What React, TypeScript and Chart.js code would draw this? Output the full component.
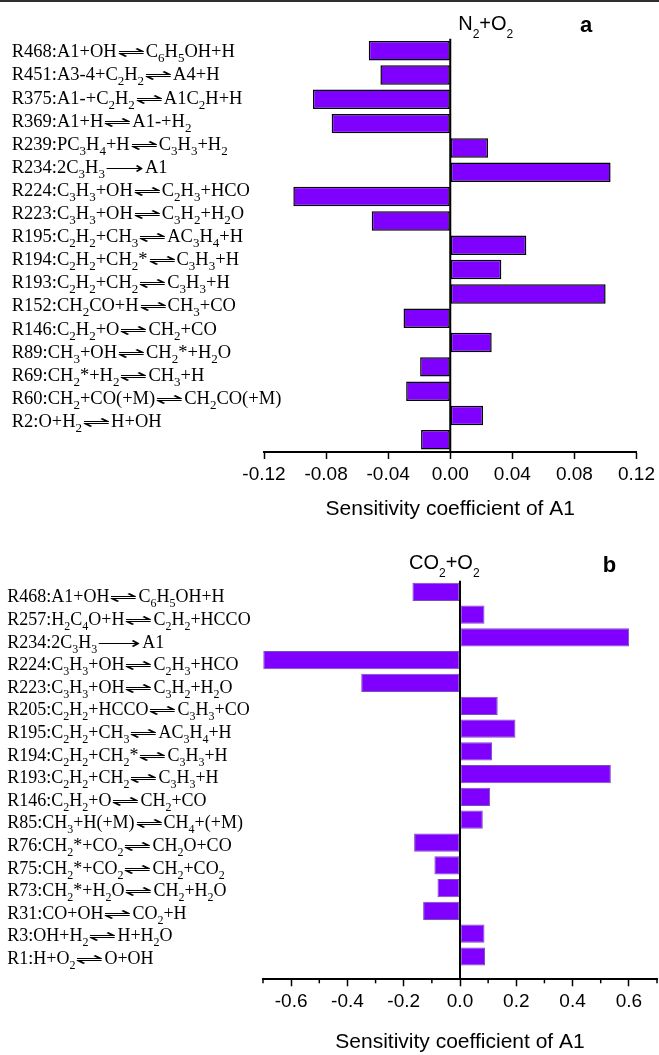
import React, { useEffect, useRef } from 'react';
import { Chart, registerables } from 'chart.js';

Chart.register(...registerables);

// ---------- data ----------
const labelsA = [
  'R468:A1+OH⇌C₆H₅OH+H',
  'R451:A3-4+C₂H₂⇌A4+H',
  'R375:A1-+C₂H₂⇌A1C₂H+H',
  'R369:A1+H⇌A1-+H₂',
  'R239:PC₃H₄+H⇌C₃H₃+H₂',
  'R234:2C₃H₃⟶A1',
  'R224:C₃H₃+OH⇌C₂H₃+HCO',
  'R223:C₃H₃+OH⇌C₃H₂+H₂O',
  'R195:C₂H₂+CH₃⇌AC₃H₄+H',
  'R194:C₂H₂+CH₂*⇌C₃H₃+H',
  'R193:C₂H₂+CH₂⇌C₃H₃+H',
  'R152:CH₂CO+H⇌CH₃+CO',
  'R146:C₂H₂+O⇌CH₂+CO',
  'R89:CH₃+OH⇌CH₂*+H₂O',
  'R69:CH₂*+H₂⇌CH₃+H',
  'R60:CH₂+CO(+M)⇌CH₂CO(+M)',
  'R2:O+H₂⇌H+OH',
];
const valuesA = [
  -0.0525, -0.045, -0.0885, -0.0764, 0.0243, 0.1033, -0.1011, -0.0506, 0.049,
  0.0329, 0.1001, -0.0301, 0.0267, -0.0194, -0.0284, 0.0211, -0.0188,
];
const ticksA = [-0.12, -0.08, -0.04, 0, 0.04, 0.08, 0.12];

const labelsB = [
  'R468:A1+OH⇌C₆H₅OH+H',
  'R257:H₂C₄O+H⇌C₂H₂+HCCO',
  'R234:2C₃H₃⟶A1',
  'R224:C₃H₃+OH⇌C₂H₃+HCO',
  'R223:C₃H₃+OH⇌C₃H₂+H₂O',
  'R205:C₂H₂+HCCO⇌C₃H₃+CO',
  'R195:C₂H₂+CH₃⇌AC₃H₄+H',
  'R194:C₂H₂+CH₂*⇌C₃H₃+H',
  'R193:C₂H₂+CH₂⇌C₃H₃+H',
  'R146:C₂H₂+O⇌CH₂+CO',
  'R85:CH₃+H(+M)⇌CH₄+(+M)',
  'R76:CH₂*+CO₂⇌CH₂O+CO',
  'R75:CH₂*+CO₂⇌CH₂+CO₂',
  'R73:CH₂*+H₂O⇌CH₂+H₂O',
  'R31:CO+OH⇌CO₂+H',
  'R3:OH+H₂⇌H+H₂O',
  'R1:H+O₂⇌O+OH',
];
const valuesB = [
  -0.169, 0.087, 0.601, -0.699, -0.351, 0.134, 0.197, 0.114, 0.536, 0.107,
  0.081, -0.163, -0.091, -0.08, -0.131, 0.087, 0.089,
];
const ticksB = [-0.6, -0.4, -0.2, 0, 0.2, 0.4, 0.6];
const minorTicksB = [-0.7, -0.5, -0.3, -0.1, 0.1, 0.3, 0.5, 0.7];

const titleA = 'N₂+O₂';
const panelA = 'a';
const titleB = 'CO₂+O₂';
const panelB = 'b';
const axisTitle = 'Sensitivity coefficient of A1';

// ---------- rich text ----------
const SUBS = '₀₁₂₃₄₅₆₇₈₉';
type Run = { text: string; kind: 'n' | 's' | 'eq' | 'fw' };

function parseRuns(s: string): Run[] {
  const runs: Run[] = [];
  const push = (ch: string, kind: Run['kind']) => {
    const last = runs[runs.length - 1];
    if (last && last.kind === kind && (kind === 'n' || kind === 's')) last.text += ch;
    else runs.push({ text: ch, kind });
  };
  for (const ch of s) {
    const si = SUBS.indexOf(ch);
    if (si >= 0) push(String(si), 's');
    else if (ch === '⇌') push(ch, 'eq');
    else if (ch === '⟶') push(ch, 'fw');
    else push(ch, 'n');
  }
  return runs;
}

type RichOpts = {
  family: string;
  size: number;
  subSize: number;
  subDy: number;
  eqW: number;
  fwW: number;
  arrowFont: string;
  arrowSy: number;
};

function drawRich(ctx: CanvasRenderingContext2D, text: string, x: number, y: number, o: RichOpts) {
  let cx = x;
  for (const r of parseRuns(text)) {
    if (r.kind === 'n') {
      ctx.font = `${o.size}px ${o.family}`;
      ctx.fillText(r.text, cx, y);
      cx += ctx.measureText(r.text).width;
    } else if (r.kind === 's') {
      ctx.font = `${o.subSize}px ${o.family}`;
      ctx.fillText(r.text, cx, y + o.subDy);
      cx += ctx.measureText(r.text).width;
    } else {
      const target = r.kind === 'eq' ? o.eqW : o.fwW;
      ctx.font = o.arrowFont;
      const w = ctx.measureText(r.text).width || 1;
      ctx.save();
      ctx.translate(cx, y);
      ctx.scale(target / w, o.arrowSy);
      ctx.fillText(r.text, 0, 0);
      ctx.restore();
      cx += target;
    }
  }
}

const SERIF = "'Liberation Serif', 'Times New Roman', serif";
const SANS = "'Liberation Sans', Arial, sans-serif";
const ARROW = "200 18px 'DejaVu Sans', sans-serif";

type PanelCfg = {
  labels: string[];
  values: number[];
  ticks: number[];
  minor: number[];
  decimals: number;
  min: number;
  max: number;
  yMax: number;
  title: string;
  panel: string;
  canvasH: number;
  padding: { left: number; right: number; top: number; bottom: number };
  axisH: number;
  titlePad: number;
  borderColor: string;
  borderWidth: number;
  labelX: number;
  labelFirst: number;
  labelGap: number;
  labelSize: number;
  eqW: number;
  fwW: number;
  titleDx: number;
  titleDy: number;
  panelDx: number;
  panelDy: number;
};

function buildConfig(p: PanelCfg): any {
  const decor = {
    id: 'decor',
    afterDatasetsDraw(chart: any) {
      const { ctx, chartArea } = chart;
      const xs = chart.scales.x;
      const zx = xs.getPixelForValue(0);
      ctx.save();
      ctx.beginPath();
      ctx.rect(chartArea.left - 2, chartArea.top, chartArea.right - chartArea.left + 4, chartArea.bottom - chartArea.top);
      ctx.clip();
      ctx.strokeStyle = '#000';
      ctx.lineWidth = 2;
      ctx.beginPath();
      ctx.moveTo(zx, chartArea.top);
      ctx.lineTo(zx, chartArea.bottom);
      ctx.stroke();
      ctx.restore();
    },
    afterDraw(chart: any) {
      const { ctx, chartArea } = chart;
      const xs = chart.scales.x;
      ctx.save();
      ctx.fillStyle = '#000';
      ctx.textAlign = 'left';
      ctx.textBaseline = 'alphabetic';
      const serifOpts: RichOpts = {
        family: SERIF,
        size: p.labelSize,
        subSize: Math.round(p.labelSize * 0.68),
        subDy: 5,
        eqW: p.eqW,
        fwW: p.fwW,
        arrowFont: ARROW,
        arrowSy: 0.85,
      };
      p.labels.forEach((l, i) => {
        drawRich(ctx, l, p.labelX, chartArea.top + p.labelFirst + i * p.labelGap, serifOpts);
      });
      const sansOpts: RichOpts = {
        family: SANS,
        size: 20,
        subSize: 12,
        subDy: 8,
        eqW: 20,
        fwW: 20,
        arrowFont: ARROW,
        arrowSy: 1,
      };
      drawRich(ctx, p.title, xs.getPixelForValue(0) + p.titleDx, chartArea.top + p.titleDy, sansOpts);
      ctx.font = `bold 22px ${SANS}`;
      ctx.fillText(p.panel, chartArea.right + p.panelDx, chartArea.top + p.panelDy);
      // minor ticks
      ctx.strokeStyle = '#000';
      ctx.lineWidth = 1.5;
      p.minor.forEach((v) => {
        const px = xs.getPixelForValue(v);
        ctx.beginPath();
        ctx.moveTo(px, chartArea.bottom);
        ctx.lineTo(px, chartArea.bottom + 4);
        ctx.stroke();
      });
      ctx.restore();
    },
  };

  return {
    type: 'bar',
    data: {
      datasets: [
        {
          data: p.values.map((v, i) => ({ x: v, y: i })),
          backgroundColor: '#8000ff',
          borderColor: p.borderColor,
          borderWidth: p.borderWidth,
          borderSkipped: false,
          barPercentage: 0.8,
          categoryPercentage: 1,
        },
      ],
    },
    options: {
      indexAxis: 'y',
      responsive: false,
      animation: false,
      devicePixelRatio: 1,
      layout: { padding: p.padding },
      plugins: { legend: { display: false }, tooltip: { enabled: false } },
      scales: {
        y: {
          type: 'linear',
          reverse: true,
          offset: false,
          min: -0.5,
          max: p.yMax,
          display: false,
          grid: { display: false },
          border: { display: false },
          afterBuildTicks: (s: any) => {
            s.ticks = p.labels.map((_, i) => ({ value: i }));
          },
        },
        x: {
          type: 'linear',
          min: p.min,
          max: p.max,
          offset: false,
          afterBuildTicks: (s: any) => {
            s.ticks = p.ticks.map((v) => ({ value: v }));
          },
          afterFit: (s: any) => {
            s.height = p.axisH;
          },
          ticks: {
            color: '#000',
            padding: 4,
            font: { family: SANS, size: 19 },
            maxRotation: 0,
            autoSkip: false,
            callback: (v: any) => Number(v).toFixed(p.decimals),
          },
          grid: {
            drawOnChartArea: false,
            color: '#000',
            tickColor: '#000',
            tickLength: 7,
            tickWidth: 1.5,
          },
          border: { display: true, color: '#000', width: 2 },
          title: {
            display: true,
            text: axisTitle,
            color: '#000',
            font: { family: SANS, size: 21 },
            padding: { top: 0, bottom: p.titlePad },
          },
        },
      },
    },
    plugins: [decor],
  };
}

const cfgA: PanelCfg = {
  labels: labelsA,
  values: valuesA,
  ticks: ticksA,
  minor: [],
  decimals: 2,
  min: -0.12,
  max: 0.12,
  yMax: 16.5,
  title: titleA,
  panel: panelA,
  canvasH: 527,
  padding: { left: 264, right: 19.7, top: 38.5, bottom: 5 },
  axisH: 70,
  titlePad: 0.5,
  borderColor: '#000',
  borderWidth: 1.5,
  labelX: 11.7,
  labelFirst: 18.8,
  labelGap: 23.1,
  labelSize: 18.5,
  eqW: 29,
  fwW: 40,
  titleDx: 8,
  titleDy: -8.5,
  panelDx: -56.6,
  panelDy: -6.5,
};

const cfgB: PanelCfg = {
  labels: labelsB,
  values: valuesB,
  ticks: ticksB,
  minor: minorTicksB,
  decimals: 1,
  min: -0.7,
  max: 0.7,
  yMax: 17,
  title: titleB,
  panel: panelB,
  canvasH: 528,
  padding: { left: 263, right: 2, top: 53.4, bottom: 0 },
  axisH: 75.7,
  titlePad: 0,
  borderColor: '#7b4fb8',
  borderWidth: 1,
  labelX: 7.3,
  labelFirst: 21.9,
  labelGap: 22.6,
  labelSize: 18,
  eqW: 29,
  fwW: 45,
  titleDx: -51,
  titleDy: -11.4,
  panelDx: -54.3,
  panelDy: -8.7,
};

function Panel({ cfg, top }: { cfg: PanelCfg; top: number }) {
  const ref = useRef<HTMLCanvasElement>(null);
  useEffect(() => {
    if (!ref.current) return;
    const chart = new Chart(ref.current, buildConfig(cfg));
    return () => chart.destroy();
  }, [cfg]);
  return (
    <canvas
      ref={ref}
      width={659}
      height={cfg.canvasH}
      style={{ position: 'absolute', left: 0, top, width: 659, height: cfg.canvasH }}
    />
  );
}

export default function App() {
  return (
    <div style={{ position: 'absolute', left: 0, top: 0, width: 659, height: 1055, background: '#fff', overflow: 'hidden' }}>
      <div style={{ position: 'absolute', left: 0, top: 0, width: 659, height: 2, background: '#2e2e2e' }} />
      <Panel cfg={cfgA} top={0} />
      <Panel cfg={cfgB} top={527} />
    </div>
  );
}
